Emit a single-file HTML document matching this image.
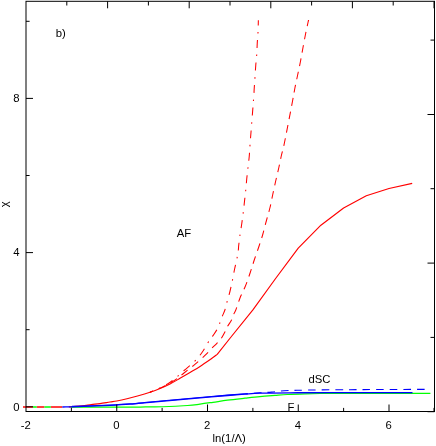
<!DOCTYPE html>
<html><head><meta charset="utf-8"><title>chart</title>
<style>
html,body{margin:0;padding:0;background:#fff;}
svg{display:block;will-change:transform;}
text{font-family:"Liberation Sans",sans-serif;font-size:11.3px;fill:#000;}
</style></head>
<body>
<svg width="436" height="446" viewBox="0 0 436 446">
<rect x="0" y="0" width="436" height="446" fill="#fff"/>
<g fill="none" stroke-linecap="butt" stroke-linejoin="round">
<path d="M23,407H33M36.7,407H44.4M50.8,407H62.4" stroke="#ff0000" stroke-width="1.35"/>
<path d="M33,407H36.7M44.4,407H50.8" stroke="#00ff00" stroke-width="1.35"/>
<path d="M68.80,407.00 C69.33,406.93 69.80,406.80 72.00,406.60 C74.20,406.40 78.78,406.13 82.00,405.80 C85.22,405.47 88.30,404.97 91.30,404.60 C94.30,404.23 96.88,404.03 100.00,403.60 C103.12,403.17 107.21,402.43 110.00,402.00 C112.79,401.57 113.75,401.58 116.75,401.00 C119.75,400.42 124.54,399.33 128.00,398.50 C131.46,397.67 133.83,397.05 137.50,396.00 C141.17,394.95 146.25,393.45 150.00,392.20 C153.75,390.95 156.67,389.87 160.00,388.50 C163.33,387.13 166.67,385.70 170.00,384.00 C173.33,382.30 176.67,380.23 180.00,378.30 C183.33,376.37 186.67,374.38 190.00,372.40 C193.33,370.42 196.45,368.68 200.00,366.40 C203.55,364.12 208.43,360.70 211.30,358.70 C214.17,356.70 216.22,355.12 217.20,354.40 L230.20,338.00 L252.90,309.90 L275.60,278.50 L298.25,248.20 L320.90,225.20 L343.60,208.00 L366.30,195.80 L389.00,188.50 L412.20,183.40" stroke="#ff0000" stroke-width="1.15"/>
<path d="M71.00,407.00 C82.50,407.00 124.75,407.04 140.00,407.00 C155.25,406.96 154.58,407.00 162.50,406.75 C170.42,406.50 181.25,405.94 187.50,405.50 C193.75,405.06 195.75,404.63 200.00,404.10 C204.25,403.57 208.42,402.95 213.00,402.30 C217.58,401.65 222.17,400.88 227.50,400.20 C232.83,399.52 239.58,398.80 245.00,398.20 C250.42,397.60 255.00,397.07 260.00,396.60 C265.00,396.13 270.42,395.75 275.00,395.40 C279.58,395.05 282.50,394.77 287.50,394.50 C292.50,394.23 299.58,393.97 305.00,393.80 C310.42,393.63 312.50,393.56 320.00,393.50 C327.50,393.44 331.60,393.48 350.00,393.45 C368.40,393.42 417.00,393.32 430.40,393.30" stroke="#00ff00" stroke-width="1.25"/>
<path d="M62.40,407.00 C63.47,406.98 67.20,406.93 68.80,406.90 C70.40,406.87 68.30,406.92 72.00,406.80 C75.70,406.68 84.67,406.43 91.00,406.20 C97.33,405.97 103.50,405.73 110.00,405.40 C116.50,405.07 123.33,404.70 130.00,404.20 C136.67,403.70 142.50,403.07 150.00,402.40 C157.50,401.73 166.67,400.95 175.00,400.20 C183.33,399.45 191.25,398.68 200.00,397.90 C208.75,397.12 220.00,396.13 227.50,395.50 C235.00,394.87 239.58,394.48 245.00,394.10 C250.42,393.72 252.50,393.42 260.00,393.20 C267.50,392.98 278.33,392.89 290.00,392.80 C301.67,392.71 309.58,392.68 330.00,392.65 C350.42,392.62 398.75,392.61 412.50,392.60" stroke="#0000ff" stroke-width="1.3"/>
<path d="M72.00,406.40 C75.17,406.30 84.67,406.03 91.00,405.80 C97.33,405.57 103.50,405.33 110.00,405.00 C116.50,404.67 123.33,404.30 130.00,403.80 C136.67,403.30 142.50,402.67 150.00,402.00 C157.50,401.33 166.67,400.55 175.00,399.80 C183.33,399.05 191.25,398.28 200.00,397.50 C208.75,396.72 220.00,395.73 227.50,395.10 C235.00,394.47 242.08,393.93 245.00,393.70" stroke="#0000ff" stroke-width="1.1"/>
<path d="M245.00,393.80 C247.50,393.63 255.57,393.08 260.00,392.80 C264.43,392.52 267.60,392.43 271.60,392.10 C275.60,391.77 279.77,391.10 284.00,390.80 C288.23,390.50 291.00,390.45 297.00,390.30 C303.00,390.15 311.17,390.00 320.00,389.90 C328.83,389.80 340.67,389.77 350.00,389.70 C359.33,389.63 363.52,389.55 376.00,389.50 C388.48,389.45 416.75,389.42 424.90,389.40" stroke="#0000ff" stroke-width="1.1" stroke-dasharray="7.6 6" stroke-dashoffset="4.7"/>
<path d="M150.00,392.20 C151.67,391.53 156.67,389.72 160.00,388.20 C163.33,386.68 167.17,384.70 170.00,383.10 C172.83,381.50 174.67,380.28 177.00,378.60 C179.33,376.92 181.07,375.33 184.00,373.00 C186.93,370.67 191.15,367.48 194.60,364.60 C198.05,361.72 201.85,358.40 204.70,355.70 C207.55,353.00 209.67,350.47 211.70,348.40 C213.73,346.33 215.33,344.92 216.90,343.30 C218.47,341.68 219.77,340.57 221.10,338.70 C222.43,336.83 223.88,334.07 224.90,332.10 C225.92,330.13 226.12,328.87 227.20,326.90 C228.28,324.93 230.35,322.35 231.40,320.30 C232.45,318.25 232.77,316.32 233.50,314.60 C234.23,312.88 234.72,312.77 235.80,310.00 C236.88,307.23 238.38,302.04 240.00,298.00 C241.62,293.96 243.79,290.00 245.50,285.75 C247.21,281.50 248.79,276.79 250.25,272.50 C251.71,268.21 252.79,264.38 254.25,260.00 C255.71,255.62 257.58,250.50 259.00,246.25 C260.42,242.00 261.54,238.67 262.75,234.50 C263.96,230.33 265.04,225.75 266.25,221.25 C267.46,216.75 268.92,211.96 270.00,207.50 C271.08,203.04 271.79,198.96 272.75,194.50 C273.71,190.04 274.75,185.17 275.75,180.75 C276.75,176.33 277.79,172.29 278.75,168.00 C279.71,163.71 280.54,159.25 281.50,155.00 C282.46,150.75 282.67,151.46 284.50,142.50 C286.33,133.54 290.75,110.42 292.50,101.25 C294.25,92.08 294.12,91.96 295.00,87.50 C295.88,83.04 296.83,78.88 297.75,74.50 C298.67,70.12 299.62,65.75 300.50,61.25 C301.38,56.75 302.17,52.00 303.00,47.50 C303.83,43.00 304.67,38.42 305.50,34.25 C306.33,30.08 307.48,24.88 308.00,22.50 C308.52,20.12 308.50,20.42 308.60,20.00" stroke="#ff0000" stroke-width="1.05" stroke-dasharray="7.7 5.85" stroke-dashoffset="4.4"/>
<path d="M150.00,392.20 C151.67,391.48 157.00,389.32 160.00,387.90 C163.00,386.48 165.33,385.40 168.00,383.70 C170.67,382.00 173.33,379.90 176.00,377.70 C178.67,375.50 180.90,373.22 184.00,370.50 C187.10,367.78 191.60,364.40 194.60,361.40 C197.60,358.40 199.75,355.67 202.00,352.50 C204.25,349.33 206.48,344.90 208.10,342.40 C209.72,339.90 210.23,339.62 211.70,337.50 C213.17,335.38 215.60,331.98 216.90,329.70 C218.20,327.42 218.65,325.93 219.50,323.80 C220.35,321.67 221.10,319.20 222.00,316.90 C222.90,314.60 224.07,312.48 224.90,310.00 C225.73,307.52 226.15,305.12 227.00,302.00 C227.85,298.88 229.08,294.92 230.00,291.25 C230.92,287.58 231.75,283.62 232.50,280.00 C233.25,276.38 233.75,273.12 234.50,269.50 C235.25,265.88 236.38,261.38 237.00,258.25 C237.62,255.12 237.96,252.96 238.25,250.75 C238.54,248.54 238.46,247.62 238.75,245.00 C239.04,242.38 239.50,238.54 240.00,235.00 C240.50,231.46 241.21,227.50 241.75,223.75 C242.29,220.00 242.79,216.25 243.25,212.50 C243.71,208.75 244.08,205.00 244.50,201.25 C244.92,197.50 245.38,193.75 245.75,190.00 C246.12,186.25 246.38,182.50 246.75,178.75 C247.12,175.00 247.58,171.25 248.00,167.50 C248.42,163.75 248.92,160.00 249.25,156.25 C249.58,152.50 249.29,154.38 250.00,145.00 C250.71,135.62 252.79,109.50 253.50,100.00 C254.21,90.50 254.00,91.75 254.25,88.00 C254.50,84.25 254.75,81.25 255.00,77.50 C255.25,73.75 255.46,69.33 255.75,65.50 C256.04,61.67 256.50,58.21 256.75,54.50 C257.00,50.79 257.04,46.92 257.25,43.25 C257.46,39.58 257.82,36.33 258.00,32.50 C258.18,28.68 258.29,22.33 258.35,20.30" stroke="#ff0000" stroke-width="1.05" stroke-dasharray="8 6.55 1.5 6.55" stroke-dashoffset="5.0"/>
</g>
<g stroke="#000" stroke-width="1" fill="none">
<rect x="26.00" y="1.30" width="408.50" height="410.20"/>
<line x1="71.38" y1="411.50" x2="71.38" y2="407.90"/>
<line x1="116.75" y1="411.50" x2="116.75" y2="404.50"/>
<line x1="162.12" y1="411.50" x2="162.12" y2="407.90"/>
<line x1="207.50" y1="411.50" x2="207.50" y2="404.50"/>
<line x1="252.88" y1="411.50" x2="252.88" y2="407.90"/>
<line x1="298.25" y1="411.50" x2="298.25" y2="404.50"/>
<line x1="343.62" y1="411.50" x2="343.62" y2="407.90"/>
<line x1="389.00" y1="411.50" x2="389.00" y2="404.50"/>
<line x1="434.00" y1="411.50" x2="434.00" y2="407.90"/>
<line x1="26.00" y1="406.80" x2="33.00" y2="406.80"/>
<line x1="26.00" y1="329.70" x2="29.60" y2="329.70"/>
<line x1="26.00" y1="252.60" x2="33.00" y2="252.60"/>
<line x1="26.00" y1="175.50" x2="29.60" y2="175.50"/>
<line x1="26.00" y1="98.40" x2="33.00" y2="98.40"/>
<line x1="26.00" y1="21.30" x2="29.60" y2="21.30"/>
<line x1="66.80" y1="1.30" x2="66.80" y2="5.50"/>
<line x1="107.60" y1="1.30" x2="107.60" y2="8.30"/>
<line x1="148.40" y1="1.30" x2="148.40" y2="5.50"/>
<line x1="189.20" y1="1.30" x2="189.20" y2="8.30"/>
<line x1="230.00" y1="1.30" x2="230.00" y2="5.50"/>
<line x1="270.80" y1="1.30" x2="270.80" y2="8.30"/>
<line x1="311.60" y1="1.30" x2="311.60" y2="5.50"/>
<line x1="352.40" y1="1.30" x2="352.40" y2="8.30"/>
<line x1="393.20" y1="1.30" x2="393.20" y2="5.50"/>
<line x1="434.00" y1="1.30" x2="434.00" y2="8.30"/>
<line x1="434.50" y1="411.70" x2="427.50" y2="411.70"/>
<line x1="434.50" y1="337.40" x2="430.50" y2="337.40"/>
<line x1="434.50" y1="263.10" x2="427.50" y2="263.10"/>
<line x1="434.50" y1="188.70" x2="430.50" y2="188.70"/>
<line x1="434.50" y1="114.50" x2="427.50" y2="114.50"/>
<line x1="434.50" y1="40.10" x2="430.50" y2="40.10"/>
</g>
<g style="filter:grayscale(1)">
<text x="19.5" y="410.8" text-anchor="end">0</text>
<text x="19.5" y="256.1" text-anchor="end">4</text>
<text x="19.5" y="102.0" text-anchor="end">8</text>
<text x="25.80" y="429" text-anchor="middle">-2</text>
<text x="116.45" y="429" text-anchor="middle">0</text>
<text x="207.20" y="429" text-anchor="middle">2</text>
<text x="297.95" y="429" text-anchor="middle">4</text>
<text x="388.70" y="429" text-anchor="middle">6</text>
<text x="229.2" y="441.8" text-anchor="middle">ln(1/&#923;)</text>
<text transform="translate(7.6,204.2) rotate(-90)" text-anchor="middle">&#967;</text>
<text x="55.7" y="36.5">b)</text>
<text x="176.8" y="237">AF</text>
<text x="308.4" y="382.8">dSC</text>
<text x="287.4" y="410.9">F</text>
</g>
</svg>
</body></html>
